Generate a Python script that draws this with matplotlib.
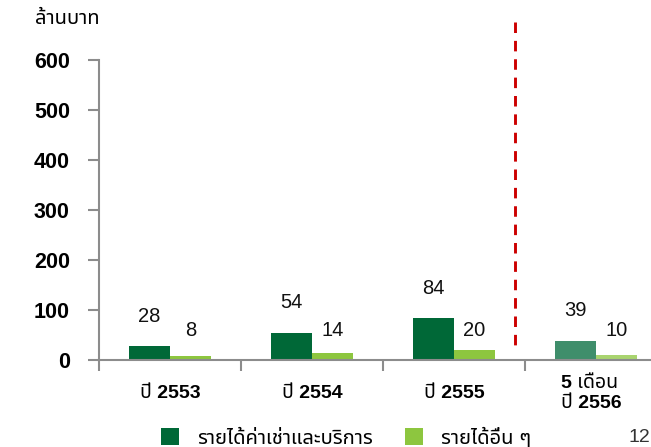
import matplotlib
matplotlib.use("Agg")
import matplotlib.pyplot as plt
from matplotlib import font_manager
from matplotlib.patches import Patch
from matplotlib.transforms import blended_transform_factory
from fontTools.ttLib import TTFont

# ---- data ----
categories = ["ปี 2553", "ปี 2554", "ปี 2555", "5 เดือน\nปี 2556"]
rent_service = [28, 54, 84, 39]      # รายได้ค่าเช่าและบริการ
other_income = [8, 14, 20, 10]       # รายได้อื่น ๆ
y_ticks = [0, 100, 200, 300, 400, 500, 600]
series_names = ["รายได้ค่าเช่าและบริการ", "รายได้อื่น ๆ"]
unit_label = "ล้านบาท"
page_number = "12"


def thai_capable_family():
    """Return the name of an installed font that has Thai glyphs."""
    names = []
    for entry in font_manager.fontManager.ttflist:
        try:
            tt = TTFont(entry.fname, fontNumber=0, lazy=True)
            cmap = tt.getBestCmap() or {}
        except Exception:
            continue
        if 0x0E32 in cmap and 0x0E1A in cmap and 0x0E49 in cmap:
            names.append(entry.name)
    for pref in ["Noto Sans Thai", "Noto Sans Thai UI", "Loma", "Garuda",
                 "Tlwg Typo", "Sarabun", "Noto Sans", "DejaVu Sans"]:
        if pref in names:
            return pref
    return names[0] if names else "DejaVu Sans"


thai = thai_capable_family()
FAMILY = ["Liberation Sans", thai, "DejaVu Sans"]
plt.rcParams["font.family"] = FAMILY

DARK = ["#006837", "#006837", "#006837", "#3f8e6b"]
LIGHT = ["#8dc63f", "#8dc63f", "#8dc63f", "#a9d46f"]
AXIS = "#8c8c8c"

fig = plt.figure(figsize=(6.51, 4.47), dpi=100)
ax = fig.add_axes([99 / 651, 87 / 447, 568 / 651, 300 / 447])

x = list(range(len(categories)))
w = 0.289
for i in x:
    ax.bar(i - w / 2, rent_service[i], width=w, color=DARK[i], linewidth=0)
    ax.bar(i + w / 2, other_income[i], width=w, color=LIGHT[i], linewidth=0)
    ax.text(i - w / 2, rent_service[i] + 60, str(rent_service[i]),
            ha="center", va="center", fontsize=14.5, color="#111111")
    ax.text(i + w / 2, 58, str(other_income[i]),
            ha="center", va="center", fontsize=14.5, color="#111111")

ax.set_xlim(-0.5, len(categories) - 0.5)
ax.set_ylim(0, 600)

# boundary ticks between groups, labels centred under each group
ax.set_xticks([i - 0.5 for i in range(len(categories) + 1)])
ax.set_xticklabels([])
ax.tick_params(axis="x", direction="out", length=8, width=1.5, color=AXIS)
trans = blended_transform_factory(ax.transData, ax.transAxes)
for i, lab in enumerate(categories):
    multi = "\n" in lab
    ax.text(i - (0.03 if multi else 0.0), -0.112, lab, transform=trans,
            ha="center", va="center", fontsize=14, fontweight="bold",
            linespacing=1.2, multialignment="left")

ax.set_yticks(y_ticks)
ax.set_yticklabels([str(t) for t in y_ticks], fontsize=15.5, fontweight="bold")
ax.tick_params(axis="y", direction="out", length=8, width=1.5, color=AXIS, pad=13)

for side in ["top", "right"]:
    ax.spines[side].set_visible(False)
for side in ["left", "bottom"]:
    ax.spines[side].set_color(AXIS)
    ax.spines[side].set_linewidth(1.5)

# separator between full years and the partial year (dash pattern from the top)
ax.plot([2.43, 2.43], [676, 20], color="#cc0000", linestyle=(0, (3.6, 2.7)),
        linewidth=2.1, clip_on=False, solid_capstyle="butt", dash_capstyle="butt")

fig.text(35 / 651, 1 - 19 / 447, unit_label, ha="left", va="center",
         fontsize=14.5)

handles = [Patch(facecolor=DARK[0]), Patch(facecolor=LIGHT[0])]
fig.legend(handles, series_names, loc="center", bbox_to_anchor=(346 / 651, 1 - 437 / 447),
           ncol=2, frameon=False, fontsize=14.5, handlelength=0.9, handleheight=0.9,
           handletextpad=0.9, columnspacing=1.6, borderaxespad=0)

fig.text(650 / 651, 1 - 437 / 447, page_number, ha="right", va="center",
         fontsize=14, color="#333333")

fig.savefig("out.png", dpi=100)
